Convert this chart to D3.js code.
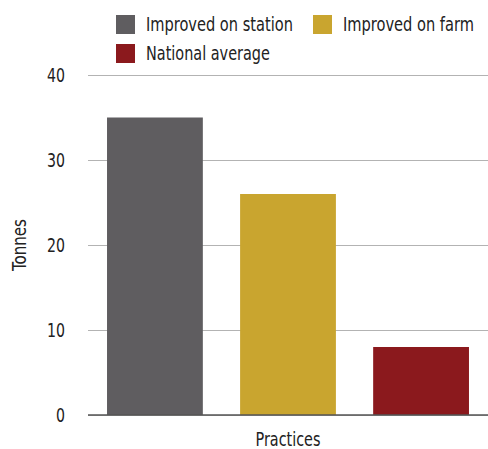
<!DOCTYPE html>
<html><head><meta charset="utf-8">
<script src="https://cdn.jsdelivr.net/npm/d3@7"></script>
<style>
body{margin:0;background:#fff;}
text{font-family:"DejaVu Sans Condensed","Liberation Sans Narrow",sans-serif;fill:#222;}
</style></head>
<body><svg id="c" width="488" height="449"></svg>
<script>
const categories = ["Practices"];
const seriesNames = ["Improved on station", "Improved on farm", "National average"];
const seriesValues = [35, 26, 8];
const seriesColors = ["#5f5d60", "#c9a52f", "#8b191d"];
const yTicks = [0, 10, 20, 30, 40];

const svg = d3.select("#c");
const m = {left: 88, right: 0, top: 75, bottom: 34};
const W = 488, H = 449;
const y = d3.scaleLinear().domain([0, 40]).range([H - m.bottom, m.top]);
const x0 = d3.scaleBand().domain(categories).range([m.left, W - m.right]);
const x1 = d3.scaleBand().domain(seriesNames).range([0, x0.bandwidth()]).paddingInner(0.28).paddingOuter(0.143);

// place a text at (x,y) and horizontally condense it to width w
function place(t, x, yy, w, extra) {
  const n = t.node().getComputedTextLength();
  const s = Math.min(1, w / n);
  t.attr("x", 0).attr("y", 0).attr("transform", `translate(${x},${yy})${extra || ""} scale(${s},1)`);
}

// gridlines
const yAxis = d3.axisLeft(y).tickValues(yTicks).tickSize(-(W - m.left - m.right)).tickPadding(23).tickFormat(d3.format("d"));
const ga = svg.append("g").attr("transform", `translate(${m.left},0)`).call(yAxis);
ga.select(".domain").remove();
ga.selectAll(".tick line").attr("stroke", "#b3b3b3").attr("stroke-width", 1.2);
ga.selectAll(".tick text").style("font-size", "19px").attr("fill", "#222")
  .each(function(d){ place(d3.select(this), -23, 0, d === 0 ? 9 : 18); });

// bars
const data = seriesNames.map((s, i) => ({s, v: seriesValues[i], c: seriesColors[i]}));
svg.append("g").selectAll("rect").data(data).join("rect")
  .attr("x", d => x0("Practices") + x1(d.s))
  .attr("width", x1.bandwidth())
  .attr("y", d => y(d.v))
  .attr("height", d => y(0) - y(d.v))
  .attr("fill", d => d.c);

// baseline
svg.append("line").attr("x1", m.left).attr("x2", W).attr("y1", y(0)).attr("y2", y(0))
  .attr("stroke", "#555").attr("stroke-width", 1.5);

// axis titles
const xt = svg.append("text").attr("text-anchor", "middle").style("font-size", "19px").text("Practices");
place(xt, x0("Practices") + x0.bandwidth()/2, 446, 65);
const yt = svg.append("text").attr("text-anchor", "middle").style("font-size", "19px").text("Tonnes");
place(yt, 26, (y(0) + y(40)) / 2, 52, " rotate(-90)");

// legend
const legPos = [[116, 15], [313, 15], [116, 44]];
const legW = [147, 131, 124];
const lg = svg.append("g").selectAll("g").data(data).join("g")
  .attr("transform", (d, i) => `translate(${legPos[i][0]},${legPos[i][1]})`);
lg.append("rect").attr("width", 19).attr("height", 19).attr("fill", d => d.c);
lg.append("text").style("font-size", "19px").text(d => d.s)
  .each(function(d, i){ place(d3.select(this), 30, 16, legW[i]); });
</script></body></html>
